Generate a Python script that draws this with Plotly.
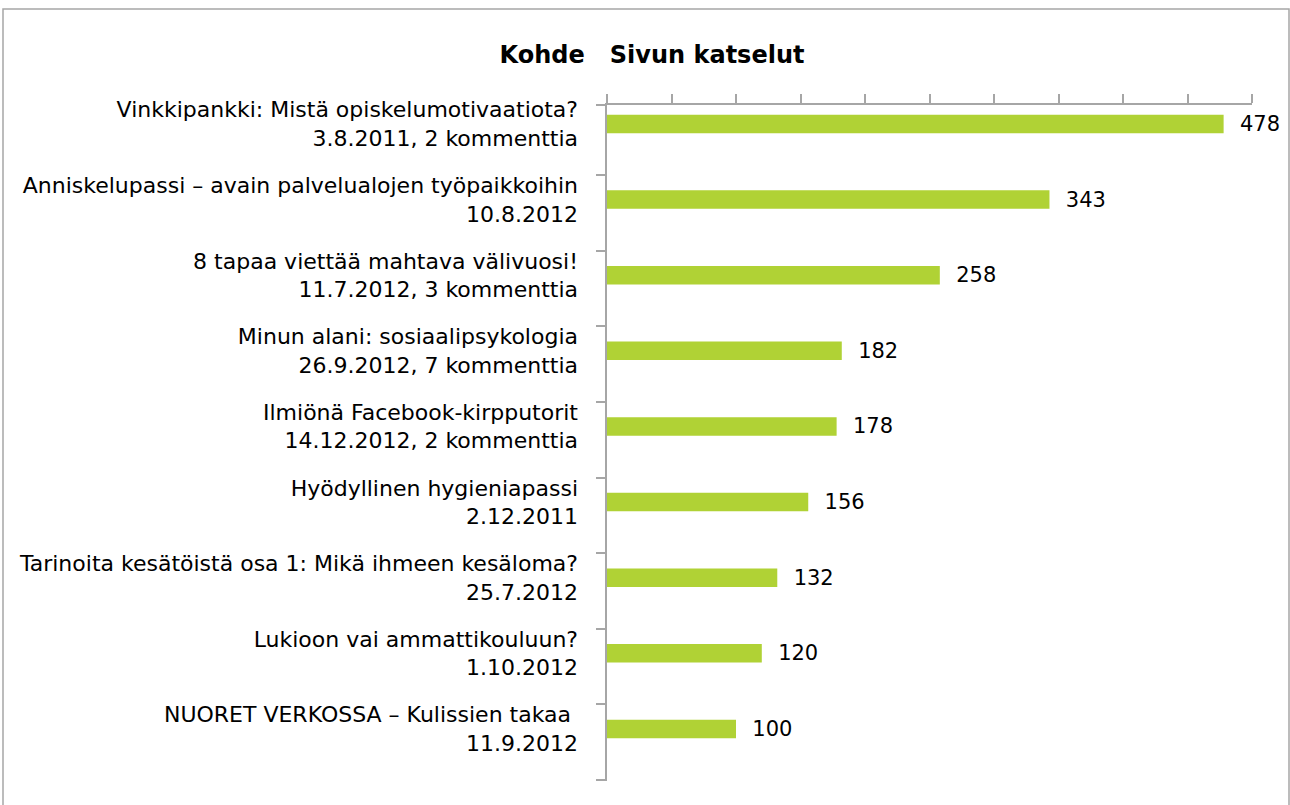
import plotly.graph_objects as go

titles = [
    "Vinkkipankki: Mistä opiskelumotivaatiota?",
    "Anniskelupassi – avain palvelualojen työpaikkoihin",
    "8 tapaa viettää mahtava välivuosi!",
    "Minun alani: sosiaalipsykologia",
    "Ilmiönä Facebook-kirpputorit",
    "Hyödyllinen hygieniapassi",
    "Tarinoita kesätöistä osa 1: Mikä ihmeen kesäloma?",
    "Lukioon vai ammattikouluun?",
    "NUORET VERKOSSA – Kulissien takaa ",
]
details = [
    "3.8.2011, 2 kommenttia",
    "10.8.2012",
    "11.7.2012, 3 kommenttia",
    "26.9.2012, 7 kommenttia",
    "14.12.2012, 2 kommenttia",
    "2.12.2011",
    "25.7.2012",
    "1.10.2012",
    "11.9.2012",
]
views = [478, 343, 258, 182, 178, 156, 132, 120, 100]
chart_title = "Kohde   Sivun katselut"

labels = [f"{t}<br>{d}" for t, d in zip(titles, details)]
pos = list(range(len(views)))

W, H = 1290, 805
L, R, T, B = 607, 38, 105, 24
FONT = "DejaVu Sans"
AX = "#A6A6A6"

# Category band layout (Excel places the bar in the upper part of its band)
y_top, y_bot = -0.251, len(views) - 0.312
band_shift = 0.675
bounds = [y_top] + [p + band_shift for p in pos]

fig = go.Figure()
fig.add_trace(go.Bar(
    x=views, y=pos, orientation="h",
    marker=dict(color="#B0D235", line=dict(width=0)),
    width=0.245,
    text=[f"  {v}" for v in views], textposition="outside",
    constraintext="none",
    textfont=dict(size=21, color="#000000", family=FONT),
    cliponaxis=False, hoverinfo="skip",
))
fig.add_trace(go.Scatter(
    x=views, y=pos, yaxis="y2", mode="markers",
    marker=dict(opacity=0), hoverinfo="skip", showlegend=False,
))

pw = W - L - R
ph = H - T - B
fig.update_layout(
    width=W, height=H,
    margin=dict(l=L, r=R, t=T, b=B),
    paper_bgcolor="white", plot_bgcolor="white",
    showlegend=False,
    font=dict(family=FONT, size=21, color="#000000"),
    title=dict(text=f"<b>{chart_title}</b>", x=652 / W, xanchor="center",
               xref="container", y=1 - 55 / H, yanchor="middle", yref="container",
               font=dict(size=24, family=FONT, color="#000000")),
    xaxis=dict(range=[0, 500], dtick=50, side="top", showticklabels=False,
               ticks="outside", ticklen=9, tickcolor=AX, tickwidth=1.5,
               showline=True, linecolor=AX, linewidth=1.5,
               showgrid=False, zeroline=False, fixedrange=True),
    yaxis=dict(range=[y_bot, y_top], tickmode="array", tickvals=pos, ticktext=labels,
               ticks="", showline=False,
               showgrid=False, zeroline=False, ticklabelstandoff=28,
               tickfont=dict(size=22, family=FONT, color="#000000")),
    yaxis2=dict(range=[y_bot, y_top], overlaying="y", side="left", anchor="x",
                tickmode="array", tickvals=bounds, showticklabels=False,
                ticks="outside", ticklen=9, tickcolor=AX, tickwidth=1.5,
                showline=True, linecolor=AX, linewidth=1.5,
                showgrid=False, zeroline=False),
    shapes=[dict(type="rect", xref="paper", yref="paper",
                 x0=(3 - L) / pw, x1=(1289 - L) / pw,
                 y0=(H - B - 806) / ph, y1=(H - B - 9) / ph,
                 line=dict(color=AX, width=1.5), fillcolor="rgba(0,0,0,0)",
                 layer="below")],
)

fig.write_html("out.html", config={"displayModeBar": False},
               post_script="document.body.style.margin='0';")
